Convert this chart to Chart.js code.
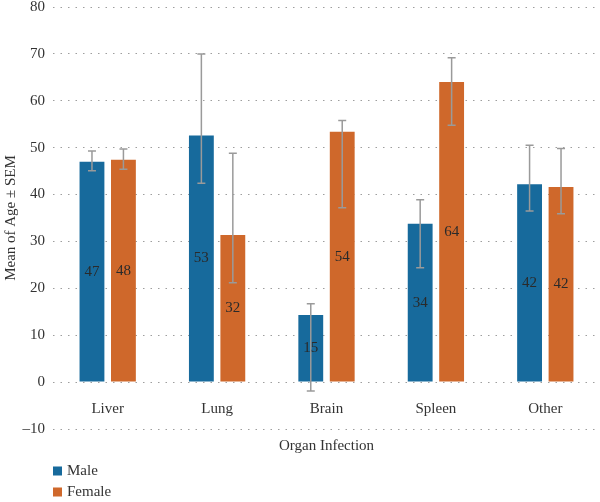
<!DOCTYPE html>
<html>
<head>
<meta charset="utf-8">
<script src="https://cdn.jsdelivr.net/npm/chart.js@4/dist/chart.umd.min.js"></script>
<style>
  html, body { margin: 0; padding: 0; background: #ffffff; }
  #wrap { width: 600px; height: 502px; }
</style>
</head>
<body>
<div id="wrap"><canvas id="c" width="600" height="502"></canvas></div>
<script>
const categories = ['Liver', 'Lung', 'Brain', 'Spleen', 'Other'];
const seriesNames = ['Male', 'Female'];
const maleMean = [47.0, 52.6, 14.3, 33.8, 42.2];
const femaleMean = [47.4, 31.4, 53.4, 64.0, 41.6];
const maleLabels = ['47', '53', '15', '34', '42'];
const femaleLabels = ['48', '32', '54', '64', '42'];
const maleHigh = [49.3, 70.0, 16.7, 38.9, 50.5];
const maleLow = [45.1, 42.4, -1.9, 24.4, 36.5];
const femaleHigh = [49.7, 48.8, 55.8, 69.2, 49.8];
const femaleLow = [45.4, 21.2, 37.2, 54.8, 35.9];
const yTicks = { min: -10, max: 80, step: 10 };

const FONT = "'Liberation Serif', 'DejaVu Serif', serif";
const TEXT = '#333333';
const BLUE = '#176a9c';
const ORANGE = '#cf682b';

const errData = [
  { high: maleHigh, low: maleLow },
  { high: femaleHigh, low: femaleLow }
];
const barText = [maleLabels, femaleLabels];

const errorBarsPlugin = {
  id: 'errorBars',
  afterDatasetsDraw(chart) {
    const ctx = chart.ctx;
    const y = chart.scales.y;
    ctx.save();
    ctx.strokeStyle = '#9a9a9a';
    ctx.lineWidth = 1.5;
    chart.data.datasets.forEach((ds, di) => {
      const meta = chart.getDatasetMeta(di);
      meta.data.forEach((bar, i) => {
        const yh = y.getPixelForValue(errData[di].high[i]);
        const yl = y.getPixelForValue(errData[di].low[i]);
        const x = bar.x;
        ctx.beginPath();
        ctx.moveTo(x, yh); ctx.lineTo(x, yl);
        ctx.moveTo(x - 4, yh); ctx.lineTo(x + 4, yh);
        ctx.moveTo(x - 4, yl); ctx.lineTo(x + 4, yl);
        ctx.stroke();
      });
    });
    ctx.fillStyle = '#2a2a2a';
    ctx.font = '15px ' + FONT;
    ctx.textAlign = 'center';
    ctx.textBaseline = 'middle';
    chart.data.datasets.forEach((ds, di) => {
      const meta = chart.getDatasetMeta(di);
      meta.data.forEach((bar, i) => {
        ctx.fillText(barText[di][i], bar.x, (bar.y + bar.base) / 2);
      });
    });
    ctx.restore();
  }
};

const legendPlugin = {
  id: 'stackLegend',
  afterDraw(chart) {
    const ctx = chart.ctx;
    ctx.save();
    ctx.font = '15px ' + FONT;
    ctx.textAlign = 'left';
    ctx.textBaseline = 'middle';
    const left = chart.chartArea.left;
    chart.data.datasets.forEach((ds, di) => {
      const cy = 471 + di * 21;
      ctx.fillStyle = ds.backgroundColor;
      ctx.fillRect(left, cy - 4.5, 9, 9);
      ctx.fillStyle = TEXT;
      ctx.fillText(ds.label, left + 14, cy);
    });
    ctx.restore();
  }
};

new Chart(document.getElementById('c'), {
  type: 'bar',
  data: {
    labels: categories,
    datasets: [
      { label: seriesNames[0], data: maleMean, backgroundColor: BLUE,
        categoryPercentage: 0.575, barPercentage: 0.79 },
      { label: seriesNames[1], data: femaleMean, backgroundColor: ORANGE,
        categoryPercentage: 0.575, barPercentage: 0.79 }
    ]
  },
  options: {
    responsive: false,
    animation: false,
    layout: { padding: { left: 0, right: 0, top: 0, bottom: 47 } },
    plugins: {
      legend: { display: false },
      tooltip: { enabled: false },
      title: {
        display: true,
        position: 'bottom',
        fullSize: false,
        text: 'Organ Infection',
        color: TEXT,
        font: { family: FONT, size: 15, weight: 'normal', lineHeight: 1.2 },
        padding: { top: 8, bottom: 0 }
      }
    },
    scales: {
      x: {
        type: 'category',
        position: { y: 0 },
        grid: { display: false },
        border: { display: false },
        ticks: { color: TEXT, font: { family: FONT, size: 15 }, padding: 10 }
      },
      y: {
        min: yTicks.min,
        max: yTicks.max,
        afterFit(scale) { scale.width = 53; scale.paddingTop = 7; },
        grid: { color: 'rgba(0,0,0,0.38)', lineWidth: 1, drawTicks: false },
        border: { display: false, dash: [1.5, 6] },
        ticks: {
          stepSize: yTicks.step,
          color: TEXT,
          padding: 8,
          font: { family: FONT, size: 15 },
          callback: v => (v < 0 ? '\u2013' + Math.abs(v) : String(v))
        },
        title: {
          display: true,
          text: 'Mean of Age \u00b1 SEM',
          color: TEXT,
          font: { family: FONT, size: 15, lineHeight: 1.2 },
          padding: { top: 2, bottom: 2 }
        }
      }
    }
  },
  plugins: [errorBarsPlugin, legendPlugin]
});
</script>
</body>
</html>
